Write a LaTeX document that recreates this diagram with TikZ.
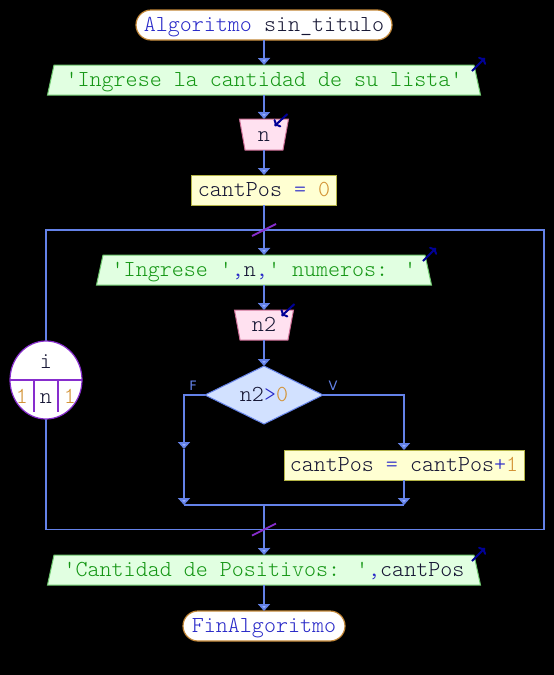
\documentclass[tikz,border=0pt]{standalone}
\usepackage{fontspec}
\usetikzlibrary{shapes.geometric,arrows.meta}
\newfontfamily\lblfont{DejaVu Sans}
\newfontfamily\psfont{Latin Modern Mono Light}

\definecolor{flowcol}{RGB}{100, 130, 232}
\definecolor{tipcol}{RGB}{150, 175, 255}
\definecolor{kwcol}{RGB}{40, 40, 200}
\definecolor{strcol}{RGB}{20, 150, 20}
\definecolor{numcol}{RGB}{210, 145, 50}
\definecolor{varcol}{RGB}{20, 20, 50}
\definecolor{termedge}{RGB}{195, 135, 55}
\definecolor{outfill}{RGB}{225, 255, 225}
\definecolor{outedge}{RGB}{110, 200, 110}
\definecolor{infill}{RGB}{255, 225, 240}
\definecolor{inedge}{RGB}{205, 110, 150}
\definecolor{asgfill}{RGB}{255, 255, 210}
\definecolor{asgedge}{RGB}{180, 180, 70}
\definecolor{decfill}{RGB}{210, 225, 255}
\definecolor{loopcol}{RGB}{135, 45, 205}
\definecolor{iocol}{RGB}{0, 0, 150}

\newcommand{\kwd}[1]{\textcolor{kwcol}{#1}}
\newcommand{\strg}[1]{\textcolor{strcol}{#1}}
\newcommand{\numb}[1]{\textcolor{numcol}{#1}}
\newcommand{\sq}{\textquotesingle}

\begin{document}
\begin{tikzpicture}[x=1pt, y=-1pt,
    font=\psfont\fontsize{22.9}{23}\selectfont, text=varcol,
    every node/.style={inner sep=0pt, outer sep=0pt, text height=15pt, text depth=2pt},
    flow/.style={draw=flowcol, line width=1.9pt},
    flowarrow/.style={-{Triangle[width=12pt,length=7pt,fill=tipcol]}},
    terminal/.style={draw=termedge, line width=1.2pt, fill=white, rounded corners=15pt, minimum height=30pt},
    outbox/.style={trapezium, trapezium left angle=69, trapezium right angle=69, trapezium stretches body,
        draw=outedge, fill=outfill, line width=1pt, minimum height=30pt},
    inbox/.style={trapezium, trapezium left angle=108, trapezium right angle=108, trapezium stretches body,
        draw=inedge, fill=infill, line width=1pt, minimum height=30pt},
    assign/.style={rectangle, draw=asgedge, fill=asgfill, line width=1pt, minimum height=30pt},
    decision/.style={diamond, shape aspect=2, draw=flowcol, fill=decfill, line width=1pt,
        minimum width=118pt, minimum height=58pt},
    branchlbl/.style={text=flowcol, font=\lblfont\fontsize{13}{13}\selectfont, text height=10pt, text depth=0pt},
    ioarrow/.style={draw=iocol, line width=2pt, -{To[length=5pt]}},
    loopline/.style={draw=loopcol, line width=1.2pt}]

    % Background
    \fill[black] (0,0) rectangle (554,675);
    \useasboundingbox (0,0) rectangle (554,675);

    % Blocks
    \node[terminal, minimum width=256pt] (start) at (264,25) {\kwd{Algoritmo} sin\_titulo};
    \node[outbox, minimum width=433pt] (out1) at (264,80) {\strg{\sq Ingrese la cantidad de su lista\sq}};
    \node[inbox, minimum width=49pt, minimum height=31pt] (in1) at (264,134.5) {n};
    \node[assign, minimum width=145pt] (asg1) at (264,190) {cantPos \kwd{=} \numb{0}};

    % Loop frame
    \coordinate (lpTL) at (46,230);
    \coordinate (lpBR) at (544,529.5);
    \coordinate (lpTop) at (264,230);
    \coordinate (lpBot) at (264,529.5);
    \draw[flow] (lpTL) rectangle (lpBR);
    \node[ellipse, draw=loopcol, fill=white, line width=1.2pt, minimum width=72pt, minimum height=78pt] (lvar) at (46,380) {};
    \draw[loopline] (lvar.west) -- (lvar.east);
    \draw[loopline] ([xshift=-12pt]lvar.center) -- ++(0,32);
    \draw[loopline] ([xshift=12pt]lvar.center) -- ++(0,32);
    \node (lvname) at (46,362) {i};
    \node (lvfrom) at (22,397) {\numb{1}};
    \node (lvto) at (46,397) {n};
    \node (lvstep) at (70,397) {\numb{1}};

    \node[outbox, minimum width=335pt] (out2) at (264,270) {\strg{\sq Ingrese \sq}\kwd{,}n\kwd{,}\strg{\sq\ numeros: \sq}};
    \node[inbox, minimum width=59pt] (in2) at (264,325) {n2};
    \node[decision] (dec) at (264,395) {n2\kwd{>}\numb{0}};
    \node[branchlbl] (flbl) at (193,385) {F};
    \node[branchlbl] (vlbl) at (333,385) {V};
    \node[assign, minimum width=240pt] (asg2) at (404,465) {cantPos \kwd{=} cantPos\kwd{+}\numb{1}};
    \coordinate (fMid) at (184,449);
    \coordinate (jL) at (184,505);
    \coordinate (jR) at (404,505);
    \coordinate (jM) at (264,505);

    \node[outbox, minimum width=433pt] (out3) at (264,570) {\strg{\sq Cantidad de Positivos: \sq}\kwd{,}cantPos};
    \node[terminal, minimum width=162pt] (fin) at (264,626) {\kwd{FinAlgoritmo}};

    % Connectors
    \draw[flow, flowarrow] (start.south) -- (out1.north);
    \draw[flow, flowarrow] (out1.south) -- (in1.north);
    \draw[flow, flowarrow] (in1.south) -- (asg1.north);
    \draw[flow, flowarrow] (asg1.south) -- (out2.north);
    \draw[flow, flowarrow] (out2.south) -- (in2.north);
    \draw[flow, flowarrow] (in2.south) -- (dec.north);
    \draw[flow, flowarrow] (dec.west) -| (fMid);
    \draw[flow, flowarrow] (fMid) -- (jL);
    \draw[flow, flowarrow] (dec.east) -| (asg2.north);
    \draw[flow, flowarrow] (asg2.south) -- (jR);
    \draw[flow] (jL) -- (jR);
    \draw[flow, flowarrow] (jM) -- (out3.north);
    \draw[flow, flowarrow] (out3.south) -- (fin.north);

    % Loop marks
    \draw[draw=loopcol, line width=1.8pt] ([shift={(-12,6)}]lpTop) -- ([shift={(12,-6)}]lpTop);
    \draw[draw=loopcol, line width=1.8pt] ([shift={(-12,6)}]lpBot) -- ([shift={(12,-6)}]lpBot);

    % Read / write marks
    \draw[ioarrow] ([shift={(-2,6)}]out1.top right corner) -- ++(13,-13);
    \draw[ioarrow] ([shift={(-2,6)}]out2.top right corner) -- ++(13,-13);
    \draw[ioarrow] ([shift={(-2,6)}]out3.top right corner) -- ++(13,-13);
    \draw[ioarrow] ([shift={(-1,-5)}]in1.top right corner) -- ++(-13,12);
    \draw[ioarrow] ([shift={(1,-6)}]in2.top right corner) -- ++(-13,12);
\end{tikzpicture}
\end{document}
